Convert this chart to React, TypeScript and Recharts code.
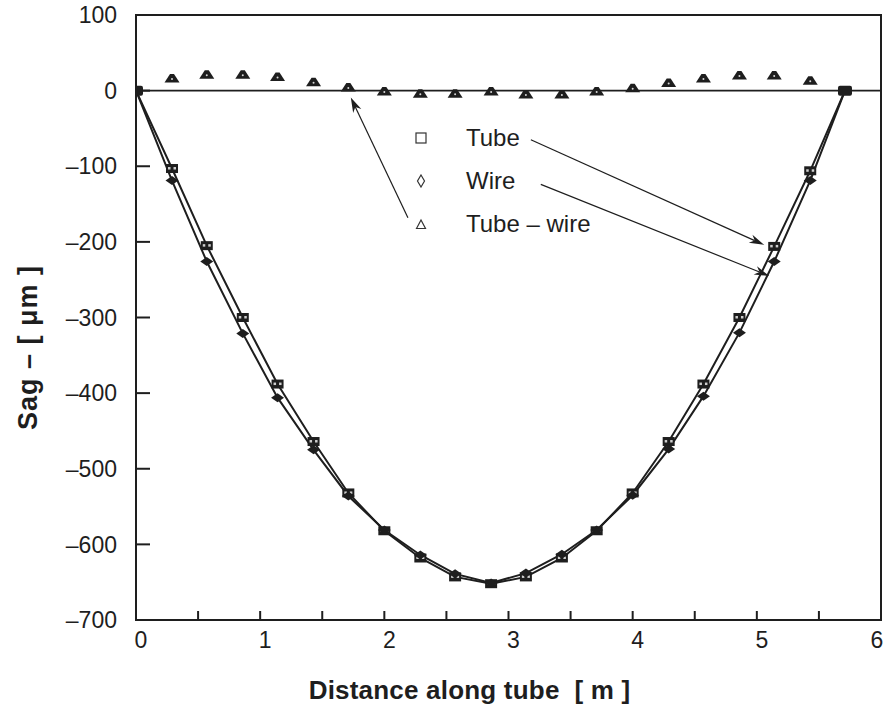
import React from 'react';
import { ComposedChart, Line, Scatter, XAxis, YAxis, ReferenceLine, ReferenceArea, Legend } from 'recharts';

// distance along the tube [m]
const distance = [0, 0.29, 0.57, 0.86, 1.14, 1.43, 1.71, 2.0, 2.29, 2.57, 2.86, 3.14, 3.43, 3.71, 4.0, 4.29, 4.57, 4.86, 5.14, 5.43, 5.71];
// sag values [um]
const tubeSag = [0, -103, -205, -300, -388, -464, -532, -582, -618, -643, -652, -643, -618, -582, -532, -464, -388, -300, -206, -106, 0];
const wireSag = [0, -119, -226, -321, -406, -475, -536, -581, -614, -639, -651, -638, -613, -581, -535, -474, -404, -320, -226, -119, 0];
const tubeMinusWire = [0, 16, 21, 21, 18, 11, 4, -1, -4, -4, -1, -5, -5, -1, 3, 10, 16, 20, 20, 13, 0];

const xTicks = [0, 0.5, 1, 1.5, 2, 2.5, 3, 3.5, 4, 4.5, 5, 5.5, 6];
const yTicks = [100, 0, -100, -200, -300, -400, -500, -600, -700];
const legendItems = ['Tube', 'Wire', 'Tube \u2013 wire'];

// annotation arrows, from the legend text to the curves (data coords)
const arrows = [
  { from: { x: 3.18, y: -65 }, to: { x: 5.06, y: -204 } },
  { from: { x: 3.26, y: -124 }, to: { x: 5.1, y: -245 } },
  { from: { x: 2.19, y: -168 }, to: { x: 1.73, y: -9 } },
];

const INK = '#1e1e1e';
const FONT = '"Liberation Sans", Arial, Helvetica, sans-serif';

const data = distance.map((x, i) => ({ x, tube: tubeSag[i], wire: wireSag[i], diff: tubeMinusWire[i] }));
const last = distance.length - 1;

const isEnd = (i: number) => i === 0 || i === last;

const TubeDot = (props: any) => {
  const { cx, cy, index } = props;
  if (cx == null || cy == null) return <g key={`t${index}`} />;
  if (isEnd(index)) {
    return <rect key={`t${index}`} x={cx - 7} y={cy - 5} width={14} height={10} rx={2} fill={INK} />;
  }
  return (
    <g key={`t${index}`}>
      <rect x={cx - 6} y={cy - 4.5} width={12} height={9} fill={INK} />
      <rect x={cx - 4} y={cy - 1.5} width={2.5} height={2.5} fill="#cfcfcf" />
      <rect x={cx + 1.5} y={cy - 1.5} width={2.5} height={2.5} fill="#cfcfcf" />
    </g>
  );
};

const WireDot = (props: any) => {
  const { cx, cy, index } = props;
  if (cx == null || cy == null || isEnd(index)) return <g key={`w${index}`} />;
  return (
    <polygon
      key={`w${index}`}
      points={`${cx - 6.5},${cy} ${cx},${cy - 4.5} ${cx + 6.5},${cy} ${cx},${cy + 4.5}`}
      fill={INK}
    />
  );
};

const TriangleDot = (props: any) => {
  const { cx, cy, index } = props;
  if (cx == null || cy == null || isEnd(index)) return <g />;
  return (
    <g>
      <polygon points={`${cx - 7.5},${cy + 4} ${cx - 2},${cy - 4.5} ${cx + 2},${cy - 4.5} ${cx + 7.5},${cy + 4}`} fill={INK} />
      <circle cx={cx} cy={cy + 0.5} r={1} fill="#d8d8d8" />
    </g>
  );
};

const Arrow = (props: any) => {
  const { x1, y1, x2, y2 } = props;
  const dx = x2 - x1;
  const dy = y2 - y1;
  const len = Math.hypot(dx, dy) || 1;
  const ux = dx / len;
  const uy = dy / len;
  const hl = 15;
  const hw = 4.5;
  const bx = x2 - ux * hl;
  const by = y2 - uy * hl;
  const nx = x2 - ux * hl * 0.7;
  const ny = y2 - uy * hl * 0.7;
  return (
    <g>
      <line x1={x1} y1={y1} x2={nx} y2={ny} stroke={INK} strokeWidth={1.2} />
      <polygon
        points={`${x2},${y2} ${bx - uy * hw},${by + ux * hw} ${nx},${ny} ${bx + uy * hw},${by - ux * hw}`}
        fill={INK}
      />
    </g>
  );
};

const XTick = (props: any) => {
  const { x, y, payload } = props;
  const v = payload.value;
  if (!Number.isInteger(v)) return <g />;
  const shift = v === 6 ? -4 : 5;
  return (
    <text x={x + shift} y={y} dy="0.71em" textAnchor="middle" fontFamily={FONT} fontSize={23} fill={INK}>
      {String(v)}
    </text>
  );
};

const legendSymbol = (i: number) => {
  if (i === 0) return <rect x={2} y={2} width={10} height={10} fill="none" stroke="#333" strokeWidth={1.2} />;
  if (i === 1) return <polygon points="7,1 10.5,7 7,13 3.5,7" fill="none" stroke="#333" strokeWidth={1.2} />;
  return <polygon points="2.5,11.5 7,3 11.5,11.5" fill="none" stroke="#333" strokeWidth={1.2} />;
};

const LegendBox = () => (
  <div style={{ fontFamily: FONT, fontSize: 24, color: INK }}>
    {legendItems.map((name, i) => (
      <div key={name} style={{ display: 'flex', alignItems: 'center', height: 43 }}>
        <svg width={14} height={14} style={{ display: 'block' }}>{legendSymbol(i)}</svg>
        <span style={{ marginLeft: 38 }}>{name}</span>
      </div>
    ))}
  </div>
);

const renderYLabel = (props: any) => {
  const { viewBox } = props;
  const x = viewBox.x + 28;
  const y = viewBox.y + viewBox.height / 2 + 30;
  return (
    <text
      x={x}
      y={y}
      transform={`rotate(-90, ${x}, ${y})`}
      textAnchor="middle"
      dominantBaseline="central"
      fontFamily={FONT}
      fontWeight="bold"
      fontSize={27}
      letterSpacing={1}
      fill={INK}
    >
      {'Sag \u2013 [ \u03bcm ]'}
    </text>
  );
};

const renderXLabel = (props: any) => {
  const { viewBox } = props;
  return (
    <text
      x={viewBox.x + viewBox.width / 2 - 39}
      y={viewBox.y + 79}
      textAnchor="middle"
      fontFamily={FONT}
      fontWeight="bold"
      fontSize={26}
      letterSpacing={0.2}
      fill={INK}
    >
      {'Distance along tube \u00a0[ m ]'}
    </text>
  );
};

export default function App() {
  return (
    <div style={{ position: 'absolute', left: 0, top: 0, width: 888, height: 704, background: '#fff', fontFamily: FONT }}>
      <ComposedChart width={888} height={704} data={data} margin={{ top: 15, right: 7, bottom: 0, left: 0 }}>
        <XAxis
          type="number"
          dataKey="x"
          domain={[0, 6]}
          ticks={xTicks}
          interval={0}
          allowDataOverflow
          height={84}
          axisLine={false}
          tickSize={-9}
          tickMargin={21}
          tickLine={{ stroke: INK, strokeWidth: 2 }}
          tick={XTick}
          label={renderXLabel}
        />
        <YAxis
          type="number"
          domain={[-700, 100]}
          ticks={yTicks}
          interval={0}
          allowDataOverflow
          width={136}
          axisLine={false}
          tickSize={-14}
          tickMargin={33}
          tickLine={{ stroke: INK, strokeWidth: 2 }}
          tick={{ fill: INK, fontSize: 23, fontFamily: FONT }}
          tickFormatter={(v: number) => String(v).replace('-', '\u2013')}
          label={renderYLabel}
        />
        <ReferenceArea x1={0} x2={6} y1={-700} y2={100} fill="none" stroke={INK} strokeWidth={2} ifOverflow="visible" />
        <ReferenceLine y={0} stroke={INK} strokeWidth={1.6} />
        {arrows.map((a, i) => (
          <ReferenceLine key={i} segment={[a.from, a.to]} shape={Arrow} ifOverflow="visible" />
        ))}
        <Line
          type="linear"
          dataKey="tube"
          stroke={INK}
          strokeWidth={2}
          dot={TubeDot}
          activeDot={false}
          isAnimationActive={false}
        />
        <Line
          type="linear"
          dataKey="wire"
          stroke={INK}
          strokeWidth={2}
          dot={WireDot}
          activeDot={false}
          isAnimationActive={false}
        />
        <Scatter dataKey="diff" shape={TriangleDot} isAnimationActive={false} />
        <Legend
          layout="vertical"
          align="center"
          verticalAlign="middle"
          content={() => <LegendBox />}
          wrapperStyle={{ left: 414, top: 116, width: 230, height: 130 }}
        />
      </ComposedChart>
    </div>
  );
}
